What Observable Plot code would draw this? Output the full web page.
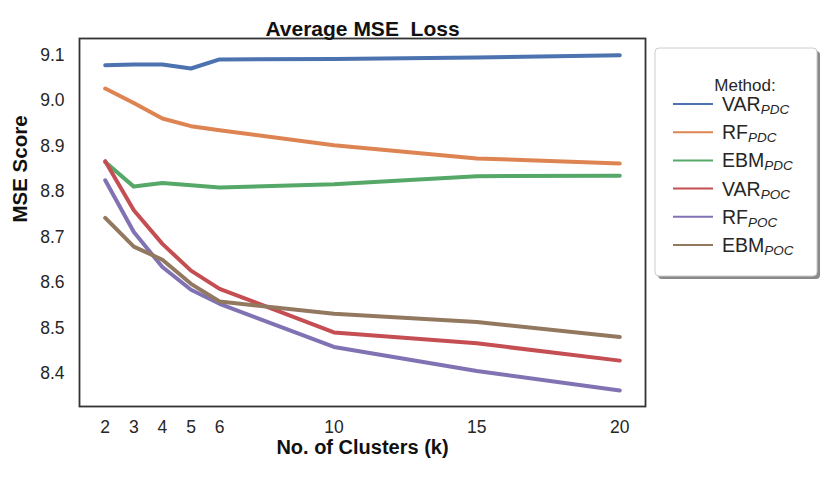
<!DOCTYPE html>
<html>
<head>
<meta charset="utf-8">
<script src="https://cdn.jsdelivr.net/npm/d3@7"></script>
<script src="https://cdn.jsdelivr.net/npm/@observablehq/plot@0.6"></script>
<style>
  html, body { margin: 0; padding: 0; background: #fff; }
  svg text { white-space: pre; }
</style>
</head>
<body>
<div id="chart"></div>
<script>
const ks = [2, 3, 4, 5, 6, 10, 15, 20];
const methods = ["VAR_PDC", "RF_PDC", "EBM_PDC", "VAR_POC", "RF_POC", "EBM_POC"];
const methodBase = ["VAR", "RF", "EBM", "VAR", "RF", "EBM"];
const methodSub = ["PDC", "PDC", "PDC", "POC", "POC", "POC"];
const colors = ["#4c72b0", "#dd8452", "#55a868", "#c44e52", "#8172b3", "#937860"];

const varPDC = [9.078, 9.080, 9.080, 9.071, 9.091, 9.092, 9.095, 9.100];
const rfPDC  = [9.027, 8.995, 8.961, 8.944, 8.935, 8.902, 8.873, 8.862];
const ebmPDC = [8.865, 8.811, 8.819, 8.814, 8.809, 8.816, 8.834, 8.835];
const varPOC = [8.867, 8.759, 8.685, 8.626, 8.586, 8.490, 8.466, 8.428];
const rfPOC  = [8.825, 8.711, 8.634, 8.584, 8.553, 8.458, 8.405, 8.362];
const ebmPOC = [8.742, 8.679, 8.650, 8.597, 8.558, 8.531, 8.513, 8.480];

const yTicks = [8.4, 8.5, 8.6, 8.7, 8.8, 8.9, 9.0, 9.1];
const title = "Average MSE  Loss";
const xLabel = "No. of Clusters (k)";
const yLabel = "MSE Score";
const legendTitle = "Method:";

const series = [varPDC, rfPDC, ebmPDC, varPOC, rfPOC, ebmPOC];
const data = [];
series.forEach((vals, i) => vals.forEach((v, j) => data.push({method: methods[i], k: ks[j], v})));

const font = "'Liberation Sans', Arial, Helvetica, sans-serif";

const chart = Plot.plot({
  width: 831,
  height: 477,
  marginLeft: 79,
  marginRight: 186,
  marginTop: 38,
  marginBottom: 71,
  style: {fontFamily: font, fontSize: "17px", color: "#262626", background: "#fff"},
  x: {domain: [1.1, 20.9], ticks: ks, label: null},
  y: {domain: [8.327, 9.137], ticks: yTicks, label: null},
  color: {domain: methods, range: colors},
  marks: [
    Plot.axisX({ticks: ks, tickSize: 0, tickPadding: 14.5, label: null, fontSize: 17.5, fill: "#262626"}),
    Plot.axisY({ticks: yTicks, tickSize: 0, tickPadding: 15, tickFormat: ".1f", label: null, fontSize: 17.5, fill: "#262626"}),
    Plot.line(data, {x: "k", y: "v", z: "method", stroke: "method", strokeWidth: 4, strokeLinecap: "round", strokeLinejoin: "round"}),
    Plot.frame({stroke: "#333", strokeWidth: 1.8}),
    Plot.text([title], {frameAnchor: "top", dy: -17.5, fontWeight: "bold", fontSize: 21, fill: "#111"}),
    Plot.text([xLabel], {frameAnchor: "bottom", dy: 47.5, fontWeight: "bold", fontSize: 20, fill: "#111"}),
    Plot.text([yLabel], {frameAnchor: "left", dx: -59, rotate: -90, fontWeight: "bold", fontSize: 20.5, fill: "#111"})
  ]
});

document.getElementById("chart").appendChild(chart);

// Legend (drawn into the same SVG)
const svg = d3.select(chart);
const lg = svg.append("g").attr("font-family", font).attr("fill", "#262626").attr("text-anchor", "start");
const bx = 655, by = 48, bw = 162, bh = 228;
lg.append("rect").attr("x", bx + 3).attr("y", by + 3).attr("width", bw).attr("height", bh)
  .attr("rx", 4).attr("fill", "#8a8a8a");
lg.append("rect").attr("x", bx).attr("y", by).attr("width", bw).attr("height", bh)
  .attr("rx", 4).attr("fill", "#fff").attr("stroke", "#cccccc").attr("stroke-width", 1);
lg.append("text").attr("x", 745).attr("y", 91).attr("text-anchor", "middle")
  .style("font-size", "17px").text(legendTitle);
methods.forEach((m, i) => {
  const yy = 104 + i * 28.2;
  lg.append("line").attr("x1", 673).attr("x2", 713).attr("y1", yy).attr("y2", yy)
    .attr("stroke", colors[i]).attr("stroke-width", 2);
  const t = lg.append("text").attr("x", 722).attr("y", yy + 7).attr("text-anchor", "start").style("font-size", "19.5px");
  t.append("tspan").text(methodBase[i]);
  t.append("tspan").style("font-size", "13.5px").attr("font-style", "italic").attr("dy", 3).text(methodSub[i]);
});
</script>
</body>
</html>
